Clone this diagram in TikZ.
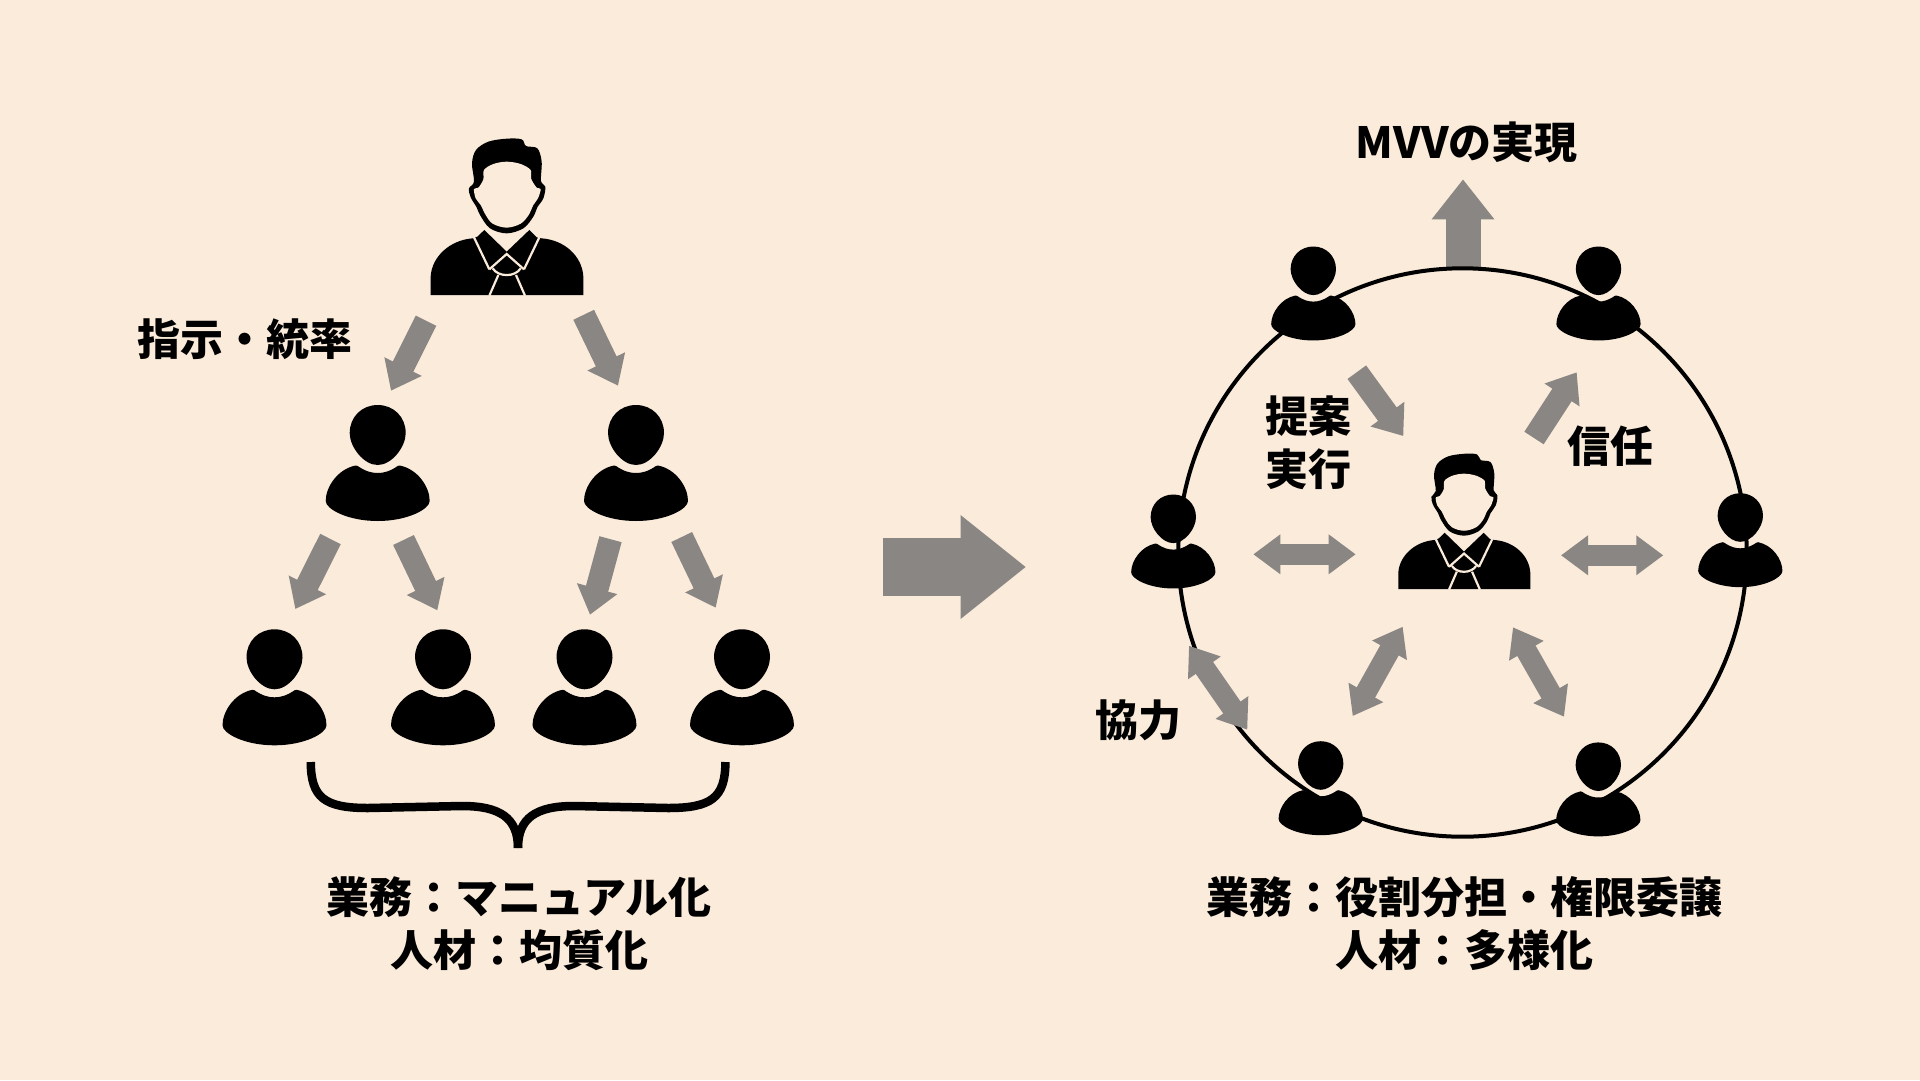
\documentclass[tikz,border=0pt]{standalone}
\usepackage{fontspec}
\setmainfont{Noto Sans CJK JP}
\usetikzlibrary{arrows.meta}
\definecolor{bgc}{HTML}{FAEBDA}
\definecolor{gr}{HTML}{8A8683}
\tikzset{
  x=1pt,y=-1pt,
  garrow/.style={draw=gr,line width=23pt,-{Triangle[length=27pt,width=40pt]}},
  gdouble/.style={draw=gr,line width=21pt,{Triangle[length=27pt,width=38pt]}-{Triangle[length=27pt,width=38pt]}},
  gup/.style={draw=gr,line width=35pt,-{Triangle[length=40pt,width=60pt]}},
  gbig/.style={draw=gr,line width=57.3pt,-{Triangle[length=65.3pt,width=99.3pt]}},
  lab/.style={font=\bfseries\fontsize{43}{52.5}\selectfont,inner sep=0pt,align=center,text=black},
  person/.pic={
    \fill[black] (0,-30) .. controls (16,-30) and (28,-18) .. (28,-2) .. controls (28,12) and (14,30) .. (0,30) .. controls (-14,30) and (-28,12) .. (-28,-2) .. controls (-28,-18) and (-16,-30) .. (0,-30) -- cycle;
    \fill[black] (-20,31) .. controls (-12,36.5) and (-6,38) .. (0,38) .. controls (6,38) and (12,36.5) .. (20,31) -- (22,30.5) .. controls (40,34) and (52,52) .. (52,66) .. controls (52,74) and (30,86) .. (0,86) .. controls (-30,86) and (-52,74) .. (-52,66) .. controls (-52,52) and (-40,34) .. (-22,30.5) -- cycle;
  },
  boss/.pic={
    \begin{scope}[scale=.33333,shift={(-321,-525)}]
    \fill[black] plot[smooth cycle,tension=.55] coordinates {(320,340)(270,325)(240,285)(230,262)(212,232)(207,205)(222,185)(216,130)(228,90)(265,65)(320,56)(365,58)(378,78)(412,85)(425,125)(423,183)(436,200)(430,235)(412,262)(400,290)(370,325)};
    \fill[bgc] plot[smooth cycle,tension=.55] coordinates {(320,323)(278,311)(257,285)(242,255)(227,235)(222,207)(235,203)(250,178)(252,150)(280,132)(320,125)(362,132)(392,150)(393,175)(410,203)(422,207)(414,235)(400,255)(386,285)(362,311)};
    \fill[black] (92,525) -- (92,470) .. controls (95,410) and (150,360) .. (218,355) -- (232,350) -- (253,330) -- (320,395) -- (388,330) -- (410,352) -- (425,355) .. controls (495,360) and (547,410) .. (550,470) -- (550,525) -- cycle;
    \draw[bgc,line width=2.2pt] (222,352) -- (268,448) (418,352) -- (372,448);
    \draw[bgc,line width=2.2pt] (268,448) -- (320,402) -- (372,448);
    \draw[bgc,line width=2.2pt] (278,445) .. controls (295,472) and (345,472) .. (362,445);
    \draw[bgc,line width=2.2pt] (295,465) -- (268,527) (348,465) -- (375,527);
    \end{scope}
  }
}
\begin{document}
\begin{tikzpicture}
\fill[bgc] (0,0) rectangle (1920,1080);
\useasboundingbox (0,0) rectangle (1920,1080);

% named arrow ends
\coordinate (a1s) at (426,320.7);   \coordinate (a1e) at (391,390.7);
\coordinate (a2s) at (330.5,539);   \coordinate (a2e) at (295.3,609);
\coordinate (a3s) at (403.5,540);   \coordinate (a3e) at (437.3,610.3);
\coordinate (a4s) at (583.7,314.8); \coordinate (a4e) at (618,385.7);
\coordinate (a5s) at (610.5,539.2); \coordinate (a5e) at (590,614.7);
\coordinate (a6s) at (681.7,537);   \coordinate (a6e) at (715.7,607.7);
\coordinate (bigs) at (883.3,567);  \coordinate (bige) at (1026,567);
\coordinate (ups) at (1463,267);    \coordinate (upe) at (1463,179.3);
\coordinate (r1s) at (1356.8,372.2);\coordinate (r1e) at (1403.3,436);
\coordinate (r2s) at (1534,438);    \coordinate (r2e) at (1576.7,372.3);
\coordinate (r3s) at (1253.3,554.3);\coordinate (r3e) at (1355.7,554.3);
\coordinate (r4s) at (1561,555.3);  \coordinate (r4e) at (1663.3,555.3);
\coordinate (r5s) at (1402.7,626.7);\coordinate (r5e) at (1352.7,716);
\coordinate (r6s) at (1513,627.3);  \coordinate (r6e) at (1564,716.7);
\coordinate (r7s) at (1189,645.7);  \coordinate (r7e) at (1247.3,729.7);
\coordinate (ring) at (1462.5,552.5);

% left hierarchy
\pic at (507,295) {boss};
\pic at (377.7,435) {person};
\pic at (636,435) {person};
\pic at (274.5,659.3) {person};
\pic at (443,659.3) {person};
\pic at (584.5,659.3) {person};
\pic at (742,659.3) {person};
\draw[garrow] (a1s) -- (a1e);
\draw[garrow] (a2s) -- (a2e);
\draw[garrow] (a3s) -- (a3e);
\draw[garrow] (a4s) -- (a4e);
\draw[garrow] (a5s) -- (a5e);
\draw[garrow] (a6s) -- (a6e);

% brace
\draw[black,line width=8.5pt] (310.8,762) .. controls (310.8,798) and (325,808) .. (368,808) -- (462,806) .. controls (500,806) and (518,818) .. (518,848);
\draw[black,line width=8.5pt] (725.4,762) .. controls (725.4,798) and (711,808) .. (668,808) -- (574,806) .. controls (536,806) and (518,818) .. (518,848);

% big arrow
\draw[gbig] (bigs) -- (bige);

% right ring
\draw[gup] (ups) -- (upe);
\draw[black,line width=4pt] (ring) circle[radius=284.2];
\pic[scale=.81] at (1173.3,518.8) {person};
\pic[scale=.81] at (1313.3,270.8) {person};
\pic[scale=.81] at (1598.5,270.8) {person};
\pic[scale=.81] at (1740.3,517.5) {person};
\pic[scale=.81] at (1320.7,765.5) {person};
\pic[scale=.81] at (1598.3,766.7) {person};
\pic[scale=.865] at (1464.3,589) {boss};
\draw[garrow] (r1s) -- (r1e);
\draw[garrow] (r2s) -- (r2e);
\draw[gdouble] (r3s) -- (r3e);
\draw[gdouble] (r4s) -- (r4e);
\draw[gdouble] (r5s) -- (r5e);
\draw[gdouble] (r6s) -- (r6e);
\draw[gdouble] (r7s) -- (r7e);

% labels
\node[lab,anchor=base] (t1) at (244.5,355) {指示・統率};
\node[lab,anchor=base] (t2) at (519,966) {業務：マニュアル化\\人材：均質化};
\node[lab,anchor=base] (t3) at (1464,966) {業務：役割分担・権限委譲\\人材：多様化};
\node[lab,anchor=base] (t4) at (1466.7,158) {MVVの実現};
\node[lab,anchor=base] (t5) at (1308.7,485) {提案\\実行};
\node[lab,anchor=base] (t6) at (1610.8,462) {信任};
\node[lab,anchor=base] (t7) at (1138.5,736) {協力};
\end{tikzpicture}
\end{document}
